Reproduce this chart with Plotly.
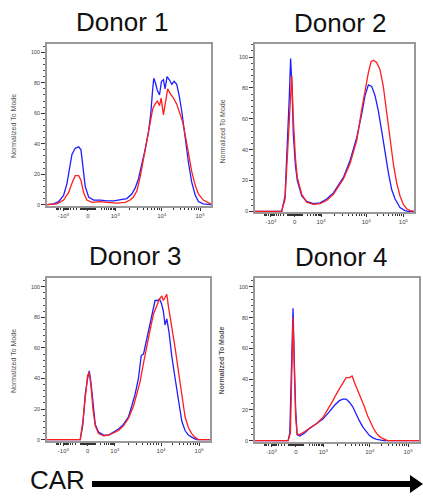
import math
import plotly.graph_objects as go

W, H = 423, 497

# ---- data (x in display channel units 0-1000, y = % of mode) ----
d1_blue_x = [0, 41, 71, 101, 122, 136, 152, 172, 193, 207, 219, 233, 254, 284, 325, 365, 406, 446, 487, 517,
             538, 558, 578, 598, 619, 633, 643, 651, 661, 673, 686, 698, 710, 720, 732, 746, 761, 775, 791, 807,
             822, 842, 862, 882, 903, 923, 953, 1000]
d1_blue_y = [0, 0.5, 2, 6, 14, 24, 33, 37, 38, 36, 25, 12, 5, 3, 3, 2.5, 2.5, 3, 4, 7,
             11, 17, 26, 36, 48, 60, 74, 83, 80, 75, 72, 81, 82, 76, 84, 82, 79, 81, 79, 71,
             61, 43, 28, 15, 6.5, 2, 0.5, 0]
d1_red_x = [0, 61, 101, 132, 152, 172, 193, 207, 223, 243, 274, 325, 365, 426, 477, 507, 527, 548, 568, 588,
            609, 629, 645, 659, 673, 686, 696, 710, 724, 736, 751, 771, 791, 811, 828, 844, 862, 882, 903, 923,
            953, 984, 1000]
d1_red_y = [0, 0.5, 3, 8, 14, 19, 19, 16, 8, 3, 1.5, 2, 1.5, 1, 1.5, 3, 5, 9, 18, 30,
            42, 55, 63, 66, 68, 65, 70, 59, 68, 76, 73, 70, 66, 60, 54, 45, 33, 22, 13, 7,
            3, 1, 0.5]

d2_blue_x = [0, 168, 189, 203, 216, 224, 233, 241, 254, 266, 294, 325, 367, 409, 451, 493, 556, 598, 640, 671,
             692, 713, 734, 755, 776, 797, 818, 839, 860, 881, 912, 943, 964, 1000]
d2_blue_y = [0, 0, 10, 40, 75, 99, 80, 50, 30, 20, 10, 6.5, 5, 5.5, 8, 12, 22, 33, 48, 63,
             75, 82, 81, 75, 65, 52, 38, 25, 14, 8, 2.5, 0.5, 0, 0]
d2_red_x = [0, 168, 189, 203, 220, 231, 241, 254, 266, 294, 325, 367, 409, 451, 493, 556, 598, 640, 671, 692,
            713, 730, 744, 765, 786, 807, 828, 849, 870, 891, 912, 933, 954, 975, 1000]
d2_red_y = [0, 0, 8, 35, 75, 88, 60, 35, 22, 11, 6, 4.5, 5, 7, 11, 21, 31, 46, 66, 79,
            90, 97, 98, 96.5, 92, 81, 64, 46, 31, 18.5, 10, 4.5, 1.7, 0.5, 0]

d3_blue_x = [0, 204, 220, 235, 249, 259, 269, 282, 296, 316, 347, 378, 408, 439, 469, 500, 520, 541, 561, 578,
             592, 612, 633, 649, 663, 678, 690, 702, 714, 724, 735, 749, 765, 786, 806, 827, 847, 867, 898, 918,
             1000]
d3_blue_y = [0, 0, 10, 30, 40, 45, 38, 22, 10, 5, 3, 3, 5, 7, 10, 15, 22, 30, 40, 55,
             56, 66, 76, 85, 91, 91, 92, 89, 84, 75, 79, 70, 55, 40, 25, 12, 6, 3, 1, 0,
             0]
d3_red_x = [0, 204, 220, 235, 249, 259, 269, 282, 296, 316, 347, 378, 408, 439, 469, 500, 531, 551, 571, 592,
            612, 633, 653, 673, 690, 704, 714, 724, 735, 745, 765, 786, 806, 827, 847, 867, 888, 908, 929, 1000]
d3_red_y = [0, 0, 12, 30, 42, 44, 36, 20, 9, 4, 2.5, 3, 4.5, 6, 9, 14, 22, 30, 38, 50,
            62, 72, 82, 88, 92, 94, 91, 93, 95, 87, 75, 60, 45, 28, 15, 8, 4, 1.5, 0, 0]

d4_blue_x = [0, 202, 212, 222, 232, 240, 248, 257, 273, 303, 333, 374, 414, 455, 485, 515, 535, 556, 576, 596,
             616, 636, 657, 677, 697, 717, 737, 768, 788, 1000]
d4_blue_y = [0, 0, 5, 50, 86, 50, 20, 4, 3, 5, 8, 11, 14, 19, 23, 26, 27, 27, 25, 22,
             17, 13, 9, 6, 3.5, 2, 1, 0.3, 0, 0]
d4_red_x = [0, 202, 216, 224, 232, 240, 248, 257, 273, 303, 333, 374, 414, 444, 475, 505, 535, 556, 576, 592,
            606, 626, 646, 667, 687, 707, 727, 747, 768, 788, 808, 1000]
d4_red_y = [0, 0, 5, 45, 80, 45, 15, 4, 4, 6, 8, 11, 15, 20, 26, 32, 37, 41, 41, 42,
            38, 33, 28, 22, 16, 11, 7, 4, 2, 1, 0, 0]

titles = ["Donor 1", "Donor 2", "Donor 3", "Donor 4"]
y_title = "Normalized To Mode"
x_tick_pos = [100, 249, 416, 700, 933]
x_tick_text = ["-10<sup>3</sup>", "0", "10<sup>3</sup>", "10<sup>4</sup>", "10<sup>5</sup>"]
y_tick_vals = [0, 20, 40, 60, 80, 100]
x_label = "CAR"

panels = [
    (d1_blue_x, d1_blue_y, d1_red_x, d1_red_y),
    (d2_blue_x, d2_blue_y, d2_red_x, d2_red_y),
    (d3_blue_x, d3_blue_y, d3_red_x, d3_red_y),
    (d4_blue_x, d4_blue_y, d4_red_x, d4_red_y),
]

# ---- layout geometry (pixels) ----
boxes = [(47, 211, 44, 207), (255, 414, 44, 213), (47, 210, 279, 443), (255, 419, 279, 444)]
y_ranges = [[-1, 105.6], [-0.5, 108.6], [-1, 105.8], [-1, 105.8]]
title_pos = [(123, 22.5), (340, 23), (135, 257.5), (341.5, 258.5)]
ylab_pos = [(13.5, 127), (222, 132), (13.5, 363), (222, 362)]


def px(x):
    return x / W


def py(y):
    return 1 - y / H


# minor tick positions on the display scale (biexponential-like)
f_m, f0, f3, f4, f5 = 100, 249, 416, 700, 933
minor_x = []
for v in [100, 200, 300, 400, 500, 600, 700, 800, 900, 10, 20, 30, 40, 50, 60, 70, 80, 90]:
    r = math.asinh(v / 100) / math.asinh(10)
    minor_x.append(f0 + (f3 - f0) * r)
    minor_x.append(f0 - (f0 - f_m) * r)
for k in range(2, 10):
    minor_x.append(f3 + (f4 - f3) * math.log10(k))
    minor_x.append(f4 + (f5 - f4) * math.log10(k))
for k in range(2, 6):
    minor_x.append(f_m - (f3 - f0) * math.log10(k) * 0.35)
minor_x = sorted(v for v in minor_x if 0 <= v <= 1000)

font_family = "Liberation Sans, Arial, Helvetica, sans-serif"

fig = go.Figure()
layout = dict(
    width=W, height=H,
    margin=dict(l=0, r=0, t=0, b=0),
    paper_bgcolor="white", plot_bgcolor="white",
    showlegend=False,
    font=dict(family=font_family, color="#333"),
)
annotations = []
for i, (bx, by, rx, ry) in enumerate(panels):
    n = "" if i == 0 else str(i + 1)
    xa, ya = "x" + n, "y" + n
    fig.add_trace(go.Scatter(x=bx, y=by, mode="lines", xaxis=xa, yaxis=ya,
                             line=dict(color="rgb(30,30,255)", width=1.3)))
    fig.add_trace(go.Scatter(x=rx, y=ry, mode="lines", xaxis=xa, yaxis=ya,
                             line=dict(color="rgb(255,30,30)", width=1.3)))
    l, r, t, b = boxes[i]
    layout["xaxis" + n] = dict(
        domain=[px(l), px(r)], range=[0, 1000], anchor=ya,
        tickmode="array", tickvals=x_tick_pos, ticktext=x_tick_text,
        ticks="outside", ticklen=3, tickwidth=1, tickcolor="#333",
        tickfont=dict(size=6, color="#444"),
        showline=True, linecolor="#999", linewidth=1.5, mirror=True,
        showgrid=False, zeroline=False,
        minor=dict(tickmode="array", tickvals=minor_x, ticks="outside",
                   ticklen=2, tickcolor="#333", tickwidth=1, showgrid=False),
    )
    layout["yaxis" + n] = dict(
        domain=[py(b), py(t)], range=y_ranges[i], anchor=xa,
        tickmode="array", tickvals=y_tick_vals,
        ticks="outside", ticklen=4, tickwidth=1, tickcolor="#333",
        tickfont=dict(size=5.5, color="#444"),
        showline=True, linecolor="#999", linewidth=1.5, mirror=True,
        showgrid=False, zeroline=False,
        minor=dict(dtick=4, ticks="outside", ticklen=2, tickcolor="#555",
                   tickwidth=1, showgrid=False),
    )
    tx, ty = title_pos[i]
    annotations.append(dict(text=titles[i], x=px(tx), y=py(ty), xref="paper", yref="paper",
                            xanchor="center", yanchor="middle", showarrow=False,
                            font=dict(size=26, color="#111", family=font_family)))
    lx, ly = ylab_pos[i]
    annotations.append(dict(text=("<b>" + y_title + "</b>") if i == 3 else y_title,
                            x=px(lx), y=py(ly), xref="paper", yref="paper",
                            xanchor="center", yanchor="middle", showarrow=False, textangle=-90,
                            font=dict(size=7, color="#555", family=font_family)))

annotations.append(dict(text=x_label, x=px(57), y=py(481.5), xref="paper", yref="paper",
                        xanchor="center", yanchor="middle", showarrow=False,
                        font=dict(size=26, color="#111", family=font_family)))
layout["annotations"] = annotations
layout["shapes"] = [
    dict(type="line", xref="paper", yref="paper", x0=px(92), x1=px(412), y0=py(486), y1=py(486),
         line=dict(color="black", width=6)),
    dict(type="path", xref="paper", yref="paper",
         path=f"M {px(410):.4f},{py(477):.4f} L {px(423):.4f},{py(486):.4f} L {px(410):.4f},{py(495):.4f} Z",
         fillcolor="black", line=dict(color="black", width=0)),
]
fig.update_layout(**layout)
fig.write_html("out.html", config={"displayModeBar": False},
               post_script="document.body.style.margin='0';document.body.style.padding='0';")
